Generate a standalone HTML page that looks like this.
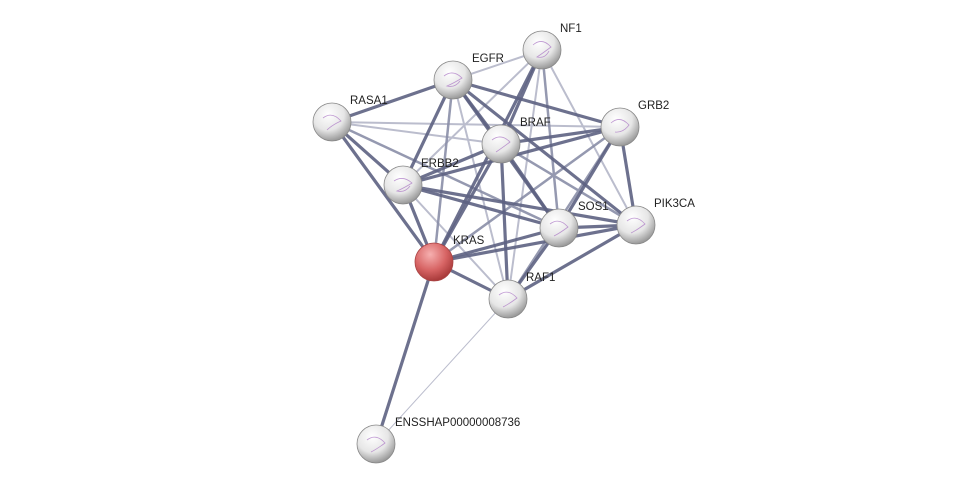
<!DOCTYPE html>
<html><head><meta charset="utf-8"><style>
html,body{margin:0;padding:0;background:#fff;}
svg{display:block;}
text{font-family:"Liberation Sans",sans-serif;font-size:11.5px;fill:#222;}
</style></head><body>
<svg width="975" height="489" viewBox="0 0 975 489" xmlns="http://www.w3.org/2000/svg">
<defs>
<radialGradient id="g" cx="40%" cy="30%" r="70%">
<stop offset="0" stop-color="#ffffff"/><stop offset="0.6" stop-color="#e6e6e6"/><stop offset="1" stop-color="#9a9a9a"/>
</radialGradient>
<radialGradient id="r" cx="40%" cy="30%" r="70%">
<stop offset="0" stop-color="#f6b0b0"/><stop offset="0.6" stop-color="#d76464"/><stop offset="1" stop-color="#a83a3a"/>
</radialGradient>
</defs>
<g stroke-linecap="round">
<g stroke="#b4b6c8" stroke-width="2" opacity="0.9">
<line x1="508" y1="299" x2="376" y2="444" stroke-width="1"/>
<line x1="453" y1="80" x2="542" y2="50"/>
<line x1="332" y1="122" x2="501" y2="144"/>
<line x1="542" y1="50" x2="636" y2="225"/>
<line x1="542" y1="50" x2="508" y2="299"/>
<line x1="403" y1="185" x2="508" y2="299"/>
<line x1="332" y1="122" x2="620" y2="127"/>
<line x1="453" y1="80" x2="508" y2="299"/>
<line x1="403" y1="185" x2="542" y2="50"/>
</g>
<g stroke="#8a8ea8" stroke-width="2.5" opacity="0.9">
<line x1="542" y1="50" x2="559" y2="228"/>
<line x1="620" y1="127" x2="508" y2="299"/>
<line x1="501" y1="144" x2="636" y2="225"/>
<line x1="434" y1="262" x2="620" y2="127"/>
<line x1="332" y1="122" x2="559" y2="228"/>
<line x1="434" y1="262" x2="453" y2="80"/>
</g>
<g stroke="#5d6282" stroke-width="3.2" stroke-opacity="0.9">
<line x1="434" y1="262" x2="376" y2="444"/>
<line x1="434" y1="262" x2="501" y2="144"/>
<line x1="434" y1="262" x2="403" y2="185"/>
<line x1="434" y1="262" x2="332" y2="122"/>
<line x1="434" y1="262" x2="559" y2="228"/>
<line x1="434" y1="262" x2="508" y2="299"/>
<line x1="434" y1="262" x2="542" y2="50"/>
<line x1="434" y1="262" x2="636" y2="225"/>
<line x1="453" y1="80" x2="332" y2="122"/>
<line x1="453" y1="80" x2="620" y2="127"/>
<line x1="453" y1="80" x2="501" y2="144"/>
<line x1="453" y1="80" x2="403" y2="185"/>
<line x1="453" y1="80" x2="559" y2="228"/>
<line x1="453" y1="80" x2="636" y2="225"/>
<line x1="332" y1="122" x2="403" y2="185"/>
<line x1="542" y1="50" x2="501" y2="144"/>
<line x1="620" y1="127" x2="501" y2="144"/>
<line x1="620" y1="127" x2="403" y2="185"/>
<line x1="620" y1="127" x2="559" y2="228"/>
<line x1="620" y1="127" x2="636" y2="225"/>
<line x1="501" y1="144" x2="403" y2="185"/>
<line x1="501" y1="144" x2="559" y2="228"/>
<line x1="501" y1="144" x2="508" y2="299"/>
<line x1="403" y1="185" x2="559" y2="228"/>
<line x1="403" y1="185" x2="636" y2="225"/>
<line x1="559" y1="228" x2="636" y2="225"/>
<line x1="559" y1="228" x2="508" y2="299"/>
<line x1="636" y1="225" x2="508" y2="299"/>
</g>
</g>
<g stroke="#888" stroke-width="0.8">
<circle cx="542" cy="50" r="19" fill="url(#g)"/>
<circle cx="453" cy="80" r="19" fill="url(#g)"/>
<circle cx="332" cy="122" r="19" fill="url(#g)"/>
<circle cx="620" cy="127" r="19" fill="url(#g)"/>
<circle cx="501" cy="144" r="19" fill="url(#g)"/>
<circle cx="403" cy="185" r="19" fill="url(#g)"/>
<circle cx="559" cy="228" r="19" fill="url(#g)"/>
<circle cx="636" cy="225" r="19" fill="url(#g)"/>
<circle cx="508" cy="299" r="19" fill="url(#g)"/>
<circle cx="376" cy="444" r="19" fill="url(#g)"/>
<circle cx="434" cy="262" r="19" fill="url(#r)" stroke="#a44"/>
</g>
<g fill="none" stroke="#b080c8" stroke-width="0.8" opacity="0.8">
<path d="M533 45 q9 -8 18 2 q-8 6 -14 10 q8 2 12 -6"/>
<path d="M444 76 q9 -7 18 2 q-8 5 -15 8 q8 2 13 -5"/>
<path d="M323 118 q9 -7 18 3 q-9 4 -14 9"/>
<path d="M611 123 q9 -8 18 2 q-6 8 -14 7"/>
<path d="M492 140 q9 -7 18 2 q-8 6 -14 10"/>
<path d="M394 181 q9 -6 18 2 q-8 5 -15 8 q8 2 13 -5"/>
<path d="M550 224 q9 -7 18 3 q-8 6 -14 9"/>
<path d="M627 221 q9 -7 18 3 q-8 6 -14 9"/>
<path d="M499 295 q9 -7 18 3 q-8 6 -14 9"/>
<path d="M367 440 q9 -7 18 3 q-8 6 -14 9"/>
</g>
<text x="560" y="32">NF1</text>
<text x="472" y="62">EGFR</text>
<text x="350" y="104">RASA1</text>
<text x="638" y="109">GRB2</text>
<text x="520" y="126">BRAF</text>
<text x="421" y="167">ERBB2</text>
<text x="578" y="210">SOS1</text>
<text x="654" y="207">PIK3CA</text>
<text x="453" y="244">KRAS</text>
<text x="526" y="281">RAF1</text>
<text x="395" y="426">ENSSHAP00000008736</text>
</svg>
</body></html>
